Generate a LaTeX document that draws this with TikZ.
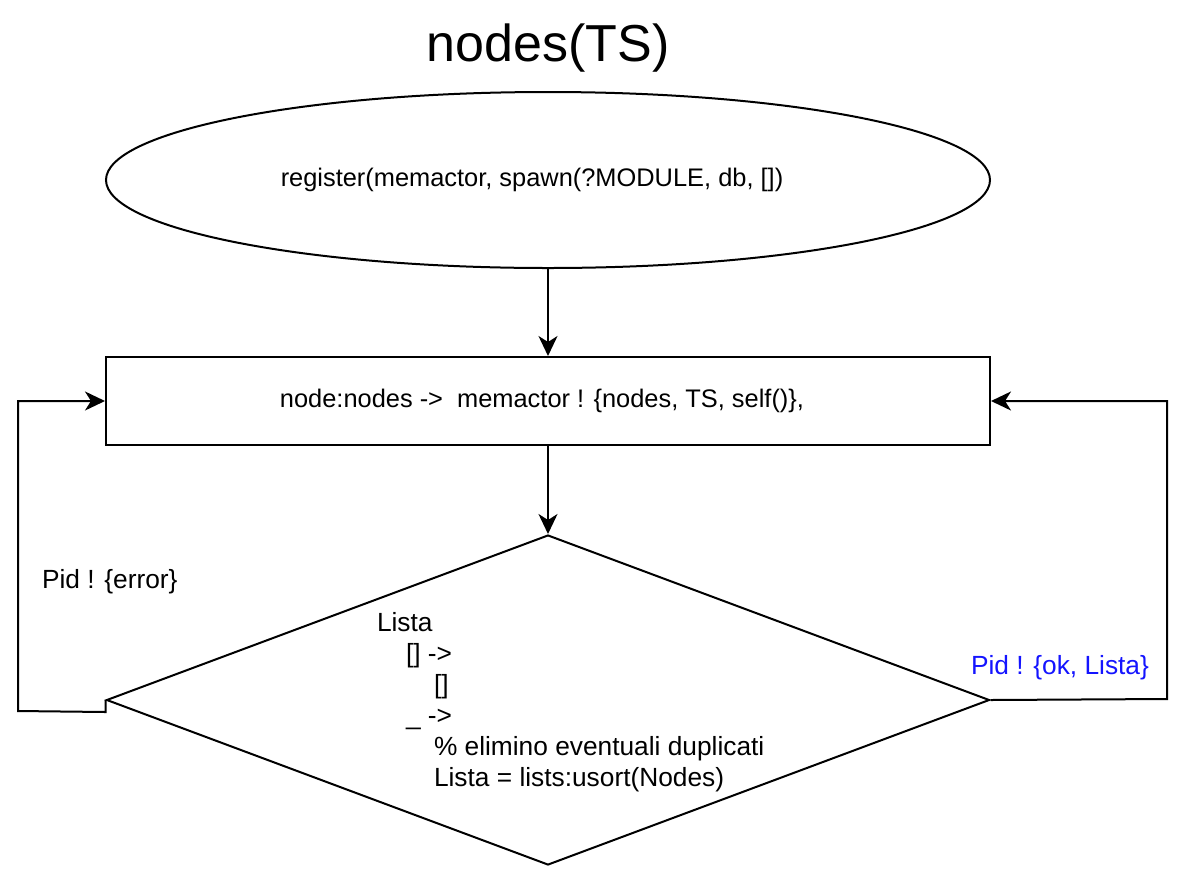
\documentclass[tikz,border=0pt]{standalone}
\usepackage{fontspec}
\setmainfont{Liberation Sans}
\usetikzlibrary{shapes.geometric,arrows.meta}
\definecolor{pidblue}{RGB}{20,20,255}
\begin{document}
\begin{tikzpicture}
%[x=1pt,y=-1pt,every node/.style={font=\fontsize{25}{31}\selectfont}]
 [x=1pt,y=-1pt,line width=2pt,
  txt/.style={font=\fontsize{25.4}{31}\selectfont,inner sep=0pt},
  lbl/.style={font=\fontsize{26.3}{31}\selectfont,inner sep=0pt},
  flow/.style={-{Stealth[length=20pt,width=19pt,inset=6pt]}}]
  \useasboundingbox (0,0) rectangle (1182,876);
  \node[font=\fontsize{52}{60}\selectfont] (title) at (548,48) {nodes(TS)};
  \node[txt,draw,ellipse,minimum width=884,minimum height=176] (reg) at (548,180) {register(memactor, spawn(?MODULE, db, [])\hspace*{32pt}};
  \node[txt,draw,rectangle,minimum width=884,minimum height=88] (act) at (548,401) {node:nodes ->\ \ memactor ! \{nodes, TS, self()\},\hspace*{12pt}};
  \node[draw,diamond,minimum width=883,minimum height=330,inner sep=0pt] (dec) at (548,700) {};
  \node[lbl,align=left,anchor=north west] (declbl) at (376,611) {Lista\\
    \hspace*{29pt}[] ->\\
    \hspace*{57pt}[]\\
    \hspace*{29pt}\_ ->\\
    \hspace*{57pt}\% elimino eventuali duplicati\\
    \hspace*{57pt}Lista = lists:usort(Nodes)};
  \node[lbl,anchor=base west] (errlbl) at (41,588) {Pid ! \{error\}};
  \node[lbl,anchor=base west,text=pidblue] (oklbl) at (970,674) {Pid ! \{ok, Lista\}};
  \coordinate (lbend) at (18,711);
  \coordinate (rbend) at (1167,699);
  \foreach \from/\to in {reg/act,act/dec}
    \draw[flow] (\from) -- (\to);
  \draw[flow] (dec.west) -- ++(0,12) -- (lbend) |- (act.west);
  \draw[flow] (dec.east) -- (rbend) |- (act.east);
\end{tikzpicture}
\end{document}
